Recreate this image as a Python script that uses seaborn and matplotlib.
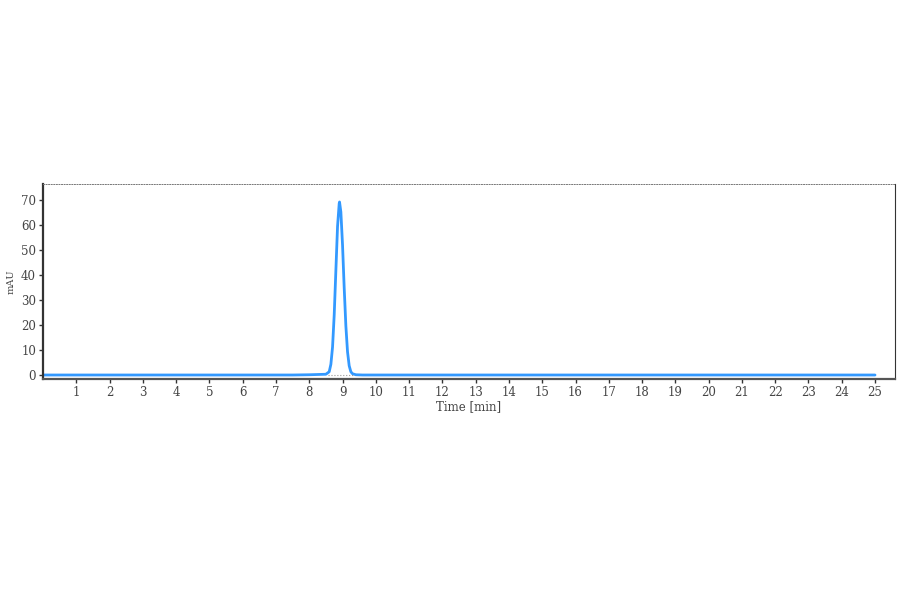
import matplotlib
matplotlib.use("Agg")
import matplotlib.pyplot as plt
import seaborn as sns
import pandas as pd

# chromatogram points (time in min, signal in mAU)
time_min = [0.0, 7.5, 8.0, 8.5, 8.6, 8.65, 8.7, 8.75, 8.8, 8.85, 8.9, 8.91,
            8.95, 9.0, 9.05, 9.1, 9.15, 9.2, 9.25, 9.3, 9.4, 9.6, 10.0, 25.0]
signal_mau = [0.0, 0.0, 0.1, 0.3, 1.3, 4.3, 11.2, 24.1, 41.9, 59.5, 68.7, 69.3,
              65.3, 52.1, 34.9, 19.7, 9.3, 3.7, 1.3, 0.5, 0.1, 0.0, 0.0, 0.0]
x_ticks = list(range(1, 26))
y_ticks = [0, 10, 20, 30, 40, 50, 60, 70]

df = pd.DataFrame({"Time": time_min, "mAU": signal_mau})

sns.set_style("white")
plt.rcParams["font.family"] = ["DejaVu Serif"]

fig = plt.figure(figsize=(9, 5.94), dpi=100)
ax = fig.add_axes([43 / 900, 1 - 379 / 594, (895 - 43) / 900, (379 - 184) / 594])

sns.lineplot(data=df, x="Time", y="mAU", ax=ax, color="#3399ff", linewidth=2.0)
# integration baseline under the peak
ax.plot([8.55, 9.35], [0.05, 0.05], color="#999999", linestyle=":", linewidth=0.8)

ax.set_xlim(0, 25.6)
ax.set_ylim(-1.6, 76.5)
ax.set_xticks(x_ticks)
ax.set_yticks(y_ticks)
ax.tick_params(axis="both", direction="out", length=3, width=1, colors="#333333",
               labelsize=8.5, labelcolor="#444444", bottom=True, left=True, pad=2)

ax.set_xlabel("Time [min]", fontsize=8.5, color="#444444", labelpad=1)
ax.set_ylabel("mAU", fontsize=7, color="#444444", labelpad=4)

ax.spines["left"].set_linewidth(1.6)
ax.spines["bottom"].set_linewidth(1.6)
ax.spines["left"].set_color("#333333")
ax.spines["bottom"].set_color("#555555")
ax.spines["top"].set_linewidth(0.7)
ax.spines["top"].set_color("#777777")
ax.spines["top"].set_linestyle(":")
ax.spines["right"].set_linewidth(0.8)
ax.spines["right"].set_color("#333333")

fig.savefig("out.png", dpi=100, facecolor="white")
